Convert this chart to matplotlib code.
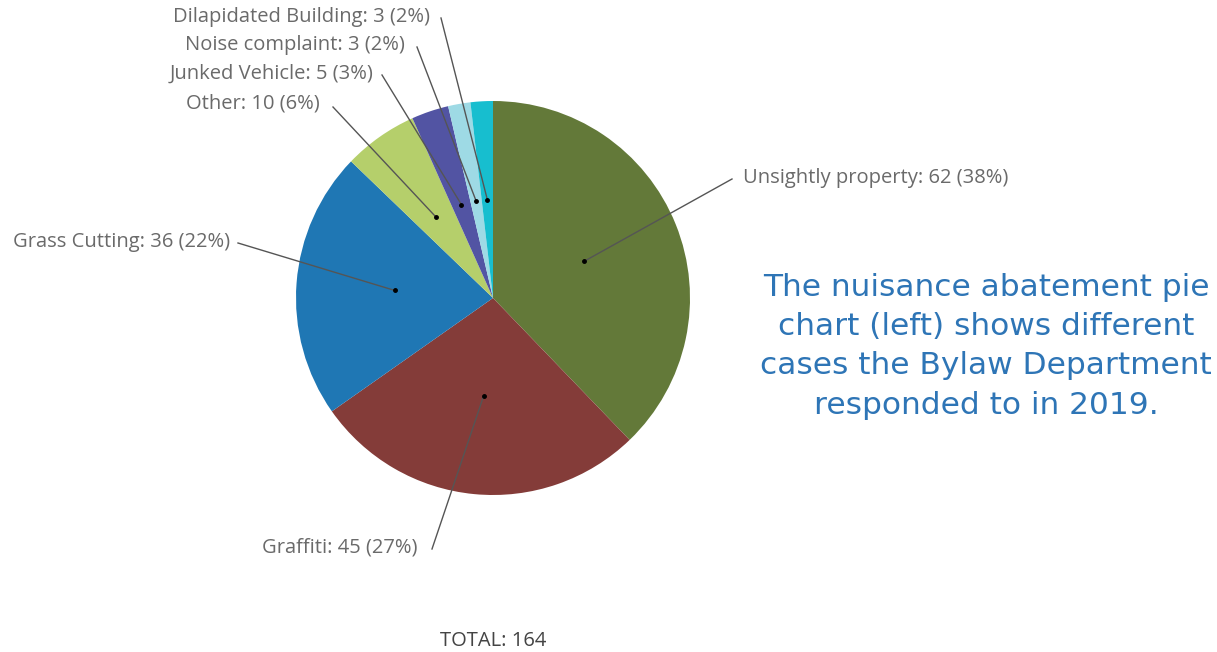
import numpy as np
import matplotlib.pyplot as plt

# data
categories = ['Unsightly property', 'Graffiti', 'Grass Cutting', 'Other',
              'Junked Vehicle', 'Noise complaint', 'Dilapidated Building']
counts = [62, 45, 36, 10, 5, 3, 3]
colors = ['#637939', '#843c39', '#1f77b4', '#b5cf6b', '#5254a3', '#9edae5', '#17becf']

side_text = ['The nuisance abatement pie',
             'chart (left) shows different',
             'cases the Bylaw Department',
             'responded to in 2019.']

W, H = 1217, 652
cx, cy, r = 493, H - 298, 197

# label placement in pixels from top-left: text x, text y, alignment, line end x, line end y
label_pos = [(743, 178, 'left', 732, 179),
             (418, 548, 'right', 432, 549),
             (230, 242, 'right', 238, 243),
             (320, 104, 'right', 333, 107),
             (374, 74, 'right', 382, 75),
             (405, 45, 'right', 417, 47),
             (430, 17, 'right', 441, 18)]

fig = plt.figure(figsize=(W / 100, H / 100), dpi=100)
ax = fig.add_axes([0, 0, 1, 1])

ax.pie(counts, colors=colors, startangle=90, counterclock=False,
       center=(cx, cy), radius=r, frame=False)
ax.set_xlim(0, W)
ax.set_ylim(0, H)
ax.axis('off')

total = sum(counts)
angle = 90.0
for name, c, pos in zip(categories, counts, label_pos):
    sweep = 360.0 * c / total
    mid = np.radians(angle - sweep / 2)
    angle -= sweep
    dx = cx + 0.5 * r * np.cos(mid)
    dy = cy + 0.5 * r * np.sin(mid)
    tx, ty, ha, lx, ly = pos
    ax.plot([dx, lx], [dy, H - ly], color='#555555', lw=1.0)
    ax.plot(dx, dy, 'o', color='black', ms=2.5)
    pct = round(100 * c / total)
    ax.text(tx, H - ty, '%s: %d (%d%%)' % (name, c, pct), ha=ha, va='center',
            fontsize=14.5, color='#6a6a6a', family='Open Sans')

ax.text(493, H - 641, 'TOTAL: %d' % total, ha='center', va='center',
        fontsize=14.5, color='#444444', family='Open Sans')

for i, line in enumerate(side_text):
    ax.text(986, H - (287 + 39.5 * i), line, ha='center', va='center',
            fontsize=22.5, color='#2e75b6', family='DejaVu Sans')

fig.savefig('out.png', dpi=100)
